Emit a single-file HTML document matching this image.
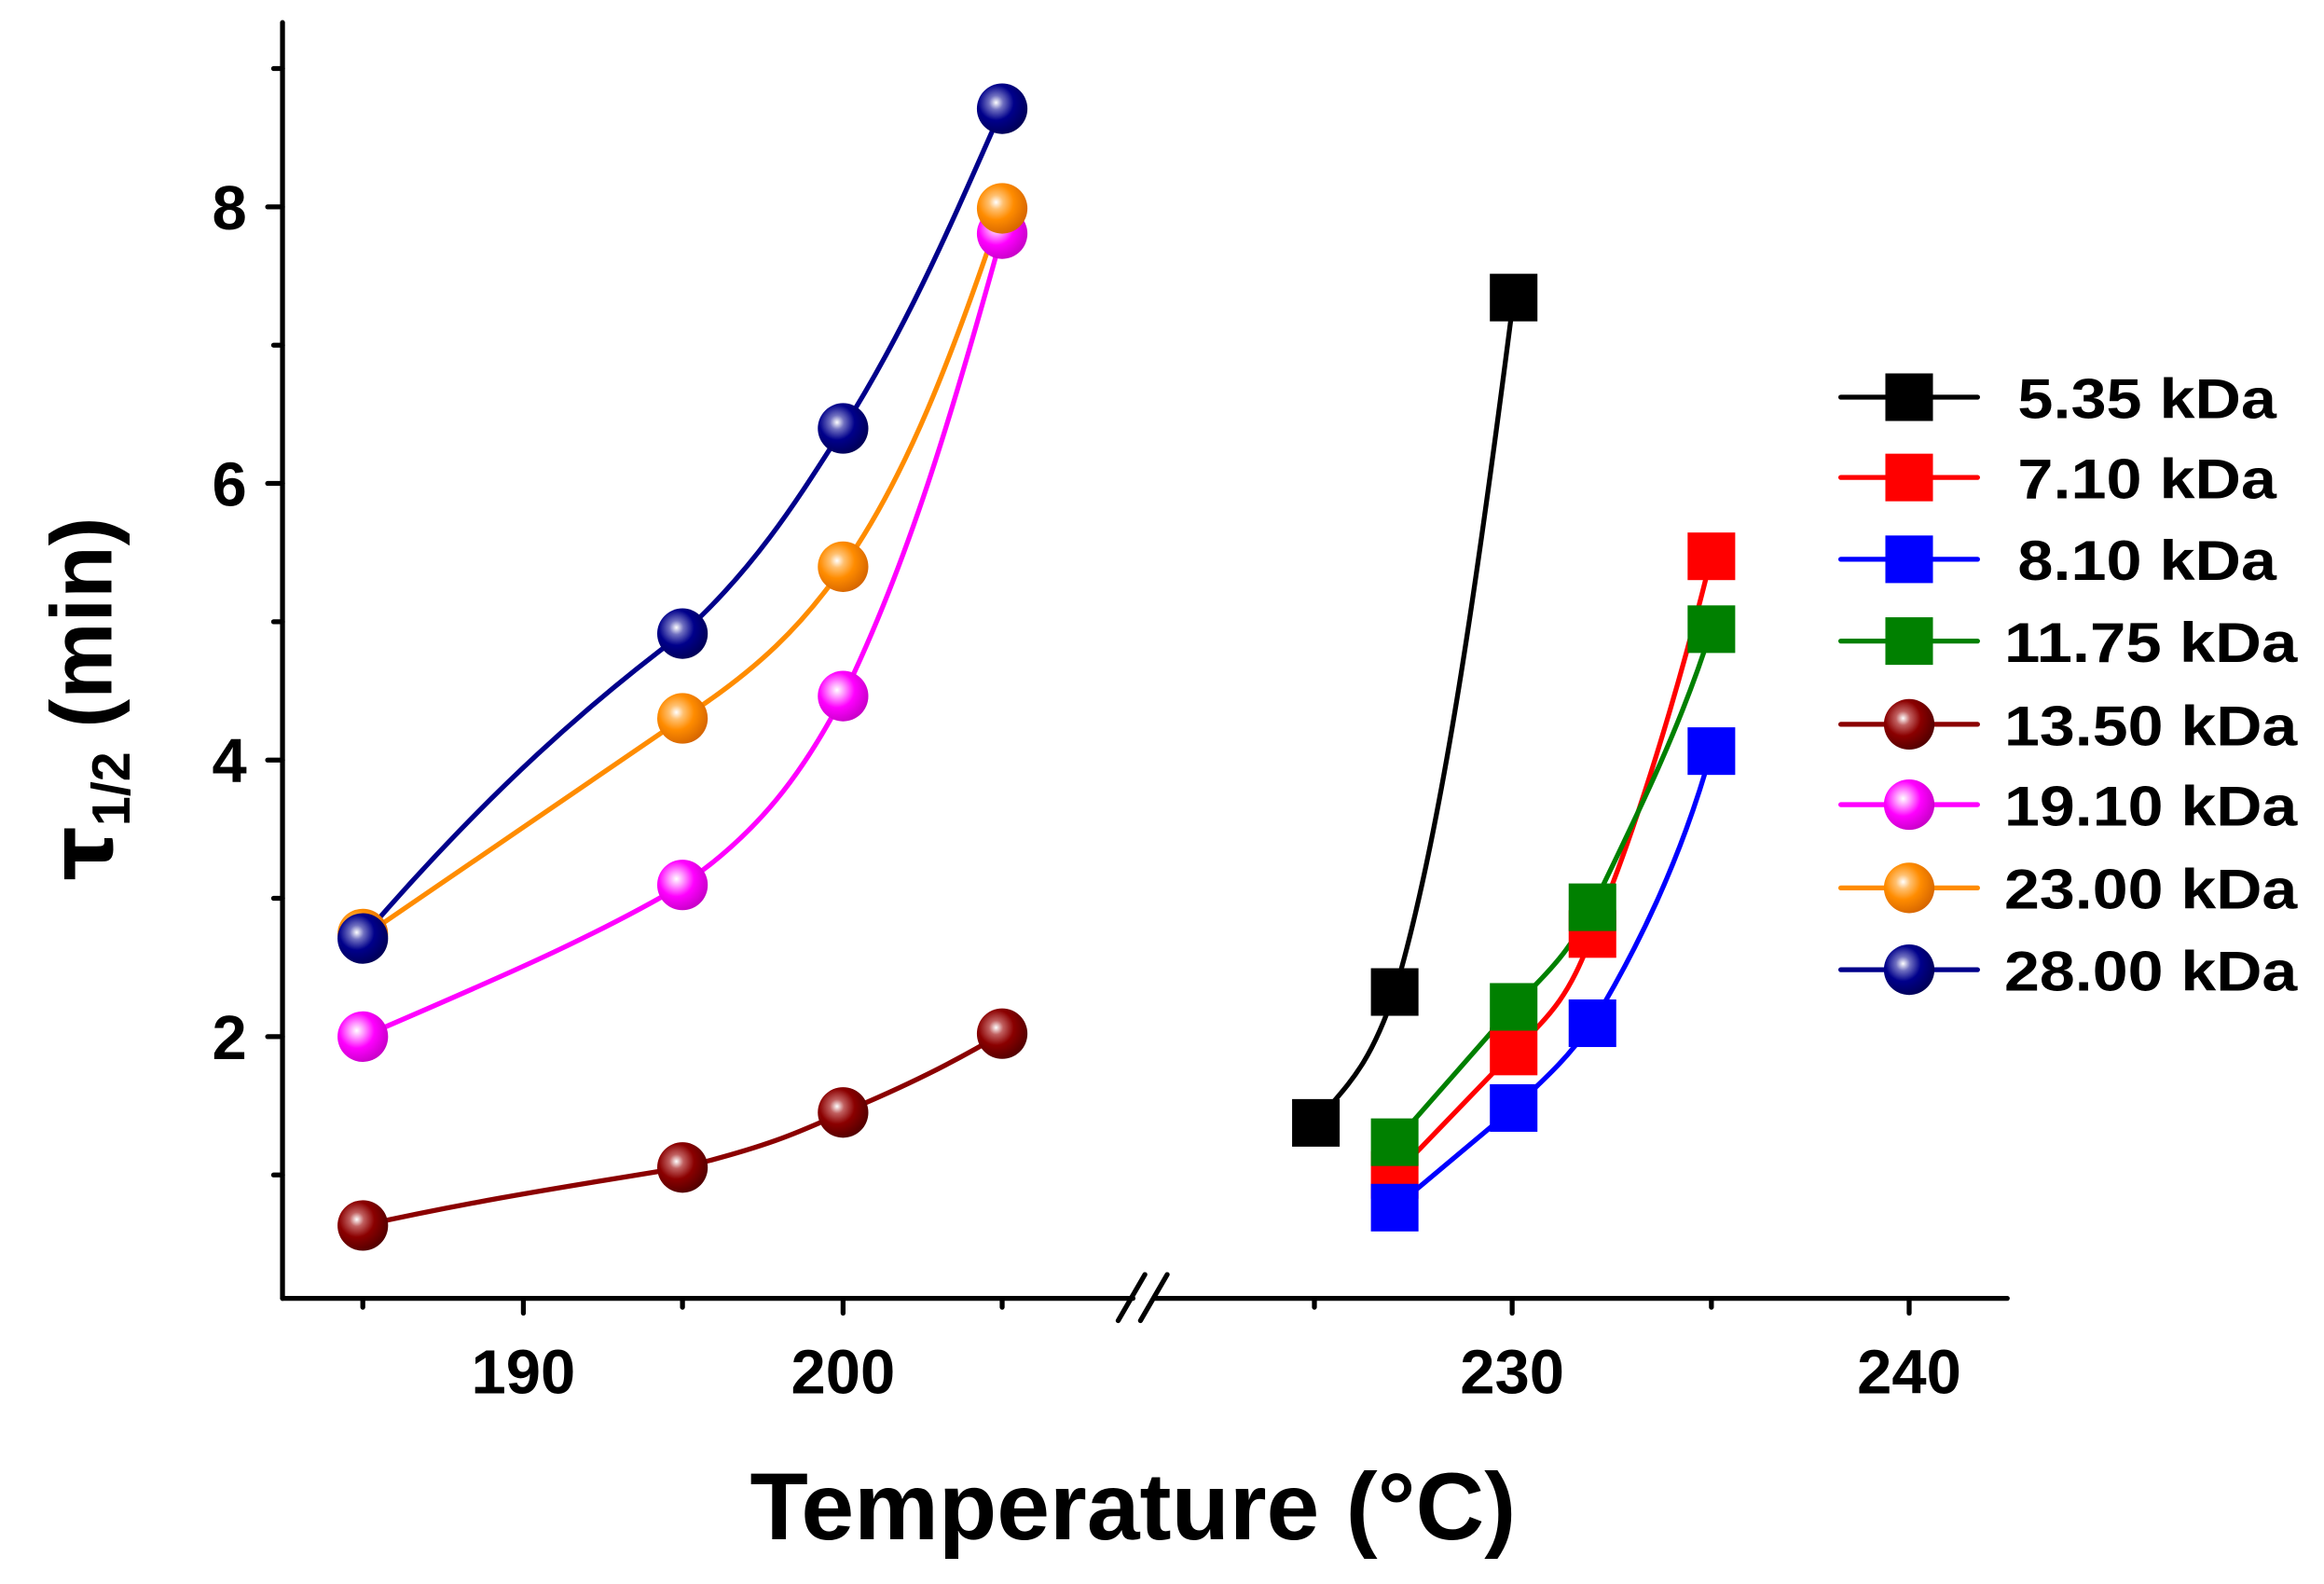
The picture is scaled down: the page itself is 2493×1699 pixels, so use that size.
<!DOCTYPE html>
<html><head><meta charset="utf-8"><style>html,body{margin:0;padding:0;background:#fff}svg{display:block}</style></head><body>
<svg width="2493" height="1699" viewBox="0 0 1563 1065" xmlns="http://www.w3.org/2000/svg" font-family="Liberation Sans, Arial, sans-serif" font-weight="bold">
<defs>
<radialGradient id="gdr" cx="0.38" cy="0.38" r="0.7"><stop offset="0" stop-color="#fff"/><stop offset="0.2" stop-color="#c06060"/><stop offset="0.5" stop-color="#8b0000"/><stop offset="1" stop-color="#4a0000"/></radialGradient>
<radialGradient id="gm" cx="0.38" cy="0.38" r="0.7"><stop offset="0" stop-color="#fff"/><stop offset="0.2" stop-color="#ff9cff"/><stop offset="0.5" stop-color="#ff00ff"/><stop offset="1" stop-color="#c000c0"/></radialGradient>
<radialGradient id="go" cx="0.38" cy="0.38" r="0.7"><stop offset="0" stop-color="#fff"/><stop offset="0.2" stop-color="#ffc070"/><stop offset="0.5" stop-color="#ff8c00"/><stop offset="1" stop-color="#d06000"/></radialGradient>
<radialGradient id="gn" cx="0.38" cy="0.38" r="0.7"><stop offset="0" stop-color="#fff"/><stop offset="0.2" stop-color="#7070c0"/><stop offset="0.5" stop-color="#00008b"/><stop offset="1" stop-color="#000050"/></radialGradient>
</defs>
<g stroke="#000" stroke-width="3.3" fill="none" stroke-linecap="round">
<line x1="190" y1="15" x2="190" y2="873"/>
<line x1="190" y1="873" x2="762" y2="873"/>
<line x1="777" y1="873" x2="1350" y2="873"/>
<line x1="752" y1="888" x2="770" y2="857"/>
<line x1="767" y1="888" x2="785" y2="857"/>
<line x1="190" y1="139" x2="180" y2="139"/><line x1="190" y1="325" x2="180" y2="325"/><line x1="190" y1="511" x2="180" y2="511"/><line x1="190" y1="697" x2="180" y2="697"/>
<line x1="190" y1="46" x2="184" y2="46"/><line x1="190" y1="232" x2="184" y2="232"/><line x1="190" y1="418" x2="184" y2="418"/><line x1="190" y1="604" x2="184" y2="604"/><line x1="190" y1="790" x2="184" y2="790"/>
<line x1="352" y1="873" x2="352" y2="883"/><line x1="567" y1="873" x2="567" y2="883"/>
<line x1="244" y1="873" x2="244" y2="879"/><line x1="459" y1="873" x2="459" y2="879"/><line x1="674" y1="873" x2="674" y2="879"/>
<line x1="1017" y1="873" x2="1017" y2="883"/><line x1="1284" y1="873" x2="1284" y2="883"/>
<line x1="884" y1="873" x2="884" y2="879"/><line x1="1151" y1="873" x2="1151" y2="879"/>
</g>
<g font-size="42" text-anchor="end">
<text x="166" y="154">8</text><text x="166" y="340">6</text><text x="166" y="526">4</text><text x="166" y="712">2</text>
</g>
<g font-size="42" text-anchor="middle">
<text x="352" y="937">190</text><text x="567" y="937">200</text><text x="1017" y="937">230</text><text x="1284" y="937">240</text>
</g>
<text x="762" y="1035" font-size="64" text-anchor="middle">Temperature (°C)</text>
<g transform="translate(75,470) rotate(-90)"><text x="0" y="0" font-size="58" text-anchor="middle"><tspan font-family="DejaVu Sans, sans-serif">τ</tspan><tspan font-size="36" dy="12">1/2</tspan><tspan dy="-12"> (min)</tspan></text></g>
<g fill="none" stroke-width="3.3">
<path stroke="#000" d="M885,755 C905,730 920,720 938,667 C970,560 995,380 1018,200"/>
<path stroke="#f00" d="M938,790 L1018,707 C1045,680 1055,670 1071,628 C1100,560 1130,460 1151,374"/>
<path stroke="#00f" d="M938,812 L1018,745 C1045,720 1055,710 1071,688 C1100,640 1130,580 1151,505"/>
<path stroke="#008000" d="M938,768 L1018,677 C1045,650 1055,640 1071,610 C1100,550 1130,490 1151,423"/>
<path stroke="#8b0000" d="M244,824 C330,805 400,795 459,785 C520,770 540,760 567,748 C610,730 640,715 674,695"/>
<path stroke="#f0f" d="M244,697 C330,660 400,630 459,595 C510,560 540,520 567,468 C610,380 640,280 674,157"/>
<path stroke="#ff8c00" d="M244,630 L459,483 C510,450 540,420 567,381 C610,320 640,240 674,140"/>
<path stroke="#00008b" d="M244,630 C330,530 400,470 459,426 C510,380 540,330 567,288 C610,220 640,150 674,73"/>
</g>
<g>
<rect x="869" y="739" width="32" height="32" fill="#000"/><rect x="922" y="651" width="32" height="32" fill="#000"/><rect x="1002" y="184" width="32" height="32" fill="#000"/>
<rect x="922" y="774" width="32" height="32" fill="#f00"/><rect x="1002" y="691" width="32" height="32" fill="#f00"/><rect x="1055" y="612" width="32" height="32" fill="#f00"/><rect x="1135" y="358" width="32" height="32" fill="#f00"/>
<rect x="922" y="752" width="32" height="32" fill="#008000"/><rect x="1002" y="661" width="32" height="32" fill="#008000"/><rect x="1055" y="594" width="32" height="32" fill="#008000"/><rect x="1135" y="407" width="32" height="32" fill="#008000"/>
<rect x="922" y="796" width="32" height="32" fill="#00f"/><rect x="1002" y="729" width="32" height="32" fill="#00f"/><rect x="1055" y="672" width="32" height="32" fill="#00f"/><rect x="1135" y="489" width="32" height="32" fill="#00f"/>
<circle cx="244" cy="824" r="17" fill="url(#gdr)"/><circle cx="459" cy="785" r="17" fill="url(#gdr)"/><circle cx="567" cy="748" r="17" fill="url(#gdr)"/><circle cx="674" cy="695" r="17" fill="url(#gdr)"/>
<circle cx="244" cy="697" r="17" fill="url(#gm)"/><circle cx="459" cy="595" r="17" fill="url(#gm)"/><circle cx="567" cy="468" r="17" fill="url(#gm)"/><circle cx="674" cy="157" r="17" fill="url(#gm)"/>
<circle cx="244" cy="628" r="17" fill="url(#go)"/><circle cx="459" cy="483" r="17" fill="url(#go)"/><circle cx="567" cy="381" r="17" fill="url(#go)"/><circle cx="674" cy="140" r="17" fill="url(#go)"/>
<circle cx="244" cy="631" r="17" fill="url(#gn)"/><circle cx="459" cy="426" r="17" fill="url(#gn)"/><circle cx="567" cy="288" r="17" fill="url(#gn)"/><circle cx="674" cy="73" r="17" fill="url(#gn)"/>
</g>
<g stroke-width="3.3" stroke-linecap="round">
<line x1="1238" y1="267" x2="1330" y2="267" stroke="#000"/><rect x="1268" y="251" width="32" height="32" fill="#000"/>
<line x1="1238" y1="321" x2="1330" y2="321" stroke="#f00"/><rect x="1268" y="305" width="32" height="32" fill="#f00"/>
<line x1="1238" y1="376" x2="1330" y2="376" stroke="#00f"/><rect x="1268" y="360" width="32" height="32" fill="#00f"/>
<line x1="1238" y1="431" x2="1330" y2="431" stroke="#008000"/><rect x="1268" y="415" width="32" height="32" fill="#008000"/>
<line x1="1238" y1="487" x2="1330" y2="487" stroke="#8b0000"/><circle cx="1284" cy="487" r="17" fill="url(#gdr)"/>
<line x1="1238" y1="541" x2="1330" y2="541" stroke="#f0f"/><circle cx="1284" cy="541" r="17" fill="url(#gm)"/>
<line x1="1238" y1="597" x2="1330" y2="597" stroke="#ff8c00"/><circle cx="1284" cy="597" r="17" fill="url(#go)"/>
<line x1="1238" y1="652" x2="1330" y2="652" stroke="#00008b"/><circle cx="1284" cy="652" r="17" fill="url(#gn)"/>
</g>
<g font-size="38">
<text x="1357" y="281" textLength="174" lengthAdjust="spacingAndGlyphs">5.35 kDa</text>
<text x="1357" y="335" textLength="174" lengthAdjust="spacingAndGlyphs">7.10 kDa</text>
<text x="1357" y="390" textLength="174" lengthAdjust="spacingAndGlyphs">8.10 kDa</text>
<text x="1348" y="445" textLength="197" lengthAdjust="spacingAndGlyphs">11.75 kDa</text>
<text x="1348" y="501" textLength="197" lengthAdjust="spacingAndGlyphs">13.50 kDa</text>
<text x="1348" y="555" textLength="197" lengthAdjust="spacingAndGlyphs">19.10 kDa</text>
<text x="1348" y="611" textLength="197" lengthAdjust="spacingAndGlyphs">23.00 kDa</text>
<text x="1348" y="666" textLength="197" lengthAdjust="spacingAndGlyphs">28.00 kDa</text>
</g>
</svg>
</body></html>
